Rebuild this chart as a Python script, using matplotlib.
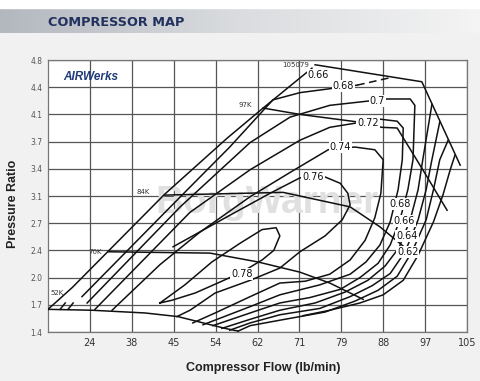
import numpy as np
import matplotlib.pyplot as plt
from matplotlib.colors import LinearSegmentedColormap

# axis labels (grid is evenly spaced, labels are not)
flow_ticks = [15, 24, 38, 45, 54, 62, 71, 79, 88, 97, 105]
pr_ticks = [1.4, 1.7, 2.0, 2.4, 2.7, 3.1, 3.4, 3.7, 4.1, 4.4, 4.8]
pr_tick_labels = ['1.4', '1.7', '2.0', '2.4', '2.7', '3.1', '3.4', '3.7', '4.1', '4.4', '4.8']

# speed lines
surge_flow = [15, 20.2, 43.5, 56.2, 63.2, 73.4]
surge_pr = [1.65, 1.89, 3.12, 3.75, 4.17, 4.68]
k52_flow = [15, 24.7, 40.2, 45.9, 55.8, 58.3]
k52_pr = [1.65, 1.64, 1.61, 1.57, 1.44, 1.41]
k70_flow = [30.2, 52.8, 62.1, 71.1, 76.8, 83.7]
k70_pr = [2.38, 2.36, 2.23, 2.08, 1.94, 1.76]
k84_flow = [43.5, 67.5, 80.9, 87.3, 92.7]
k84_pr = [3.11, 3.14, 2.94, 2.66, 2.43]
k97_flow = [63.2, 71.1, 82.4, 87.7, 91.0, 96.5, 101.2]
k97_pr = [4.17, 4.10, 3.99, 3.91, 3.90, 3.39, 2.89]
k105_flow = [74.0, 96.3, 103.7]
k105_pr = [4.73, 4.48, 3.44]

# efficiency islands
eff78_flow = [42.7, 47.4, 53.2, 58.7, 63.0, 66.0, 66.8, 65.5, 63.0, 59.0, 54.8, 49.6, 44.7, 42.7]
eff78_pr = [1.72, 1.92, 2.23, 2.48, 2.63, 2.65, 2.56, 2.40, 2.26, 2.08, 1.95, 1.83, 1.75, 1.72]
eff76_flow = [44.9, 56.8, 64.7, 71.1, 75.9, 78.8, 80.4, 80.9, 79.2, 75.9, 71.1, 66.8, 60.6, 53.9, 48.5, 45.7]
eff76_pr = [2.44, 2.82, 3.13, 3.30, 3.31, 3.24, 3.13, 2.97, 2.75, 2.56, 2.38, 2.14, 1.97, 1.83, 1.64, 1.57]
eff74_flow = [31.4, 42.7, 50.6, 60.6, 69.0, 76.5, 81.9, 86.2, 88.0, 87.5, 86.2, 84.1, 80.9, 76.8, 72.1, 66.8, 60.6, 53.9, 49.1]
eff74_pr = [1.64, 2.19, 2.60, 3.09, 3.36, 3.61, 3.64, 3.61, 3.50, 3.13, 2.78, 2.51, 2.26, 2.05, 1.96, 1.94, 1.79, 1.61, 1.50]
eff72_flow = [25.7, 48.5, 60.6, 71.1, 76.8, 87.3, 91.0, 92.3, 92.1, 91.2, 89.5, 87.3, 84.3, 80.9, 74.9, 66.8, 60.6, 51.3]
eff72_pr = [1.65, 2.86, 3.39, 3.72, 3.91, 4.03, 4.00, 3.90, 3.50, 3.17, 2.72, 2.46, 2.23, 2.05, 1.92, 1.81, 1.68, 1.48]
eff70_flow = [23.4, 46.4, 60.6, 69.0, 76.8, 88.8, 93.8, 94.8, 94.4, 93.3, 91.6, 89.5, 86.9, 83.0, 78.8, 73.0, 66.8, 60.6, 53.4]
eff70_pr = [1.72, 2.94, 3.69, 4.06, 4.20, 4.27, 4.27, 4.20, 3.50, 3.17, 2.75, 2.46, 2.21, 2.00, 1.87, 1.78, 1.72, 1.61, 1.47]
eff68_flow = [22.3, 45.3, 56.7, 65.3, 71.1, 82.4]
eff68_pr = [1.79, 3.01, 3.64, 4.26, 4.34, 4.43]
eff68_dash_flow = [82.4, 89.5]
eff68_dash_pr = [4.43, 4.54]
eff68_right_flow = [98.3, 96.5, 95.5, 93.8, 91.4, 88.4, 84.7, 79.8, 74.0, 66.8, 60.6, 55.2]
eff68_right_pr = [4.21, 3.50, 3.17, 2.75, 2.43, 2.17, 1.97, 1.84, 1.72, 1.64, 1.54, 1.44]
eff66_flow = [99.8, 98.3, 97.2, 95.5, 92.7, 89.5, 85.6, 80.9, 74.9, 66.8, 60.6, 56.7]
eff66_pr = [3.99, 3.50, 3.17, 2.75, 2.38, 2.06, 1.91, 1.79, 1.66, 1.59, 1.50, 1.42]
eff64_flow = [101.4, 99.8, 98.6, 97.2, 94.2, 91.0, 86.9, 81.9, 75.9, 66.8, 60.6, 58.3]
eff64_pr = [3.72, 3.50, 3.17, 2.75, 2.38, 2.02, 1.86, 1.74, 1.62, 1.53, 1.47, 1.41]
eff62_flow = [102.7, 101.8, 100.4, 98.6, 95.5, 92.3, 88.0, 83.0, 76.8, 71.7]
eff62_pr = [3.55, 3.39, 3.11, 2.72, 2.33, 1.97, 1.81, 1.72, 1.64, 1.58]
tick_flow = [[17.6, 18.7], [19.3, 20.4]]
tick_pr = [[1.65, 1.72], [1.65, 1.72]]

# labels
speed_names = ['52K', '70K', '84K', '97K', '105079']
speed_lab_flow = [16.9, 25.7, 39.9, 59.6, 70.3]
speed_lab_pr = [1.83, 2.38, 3.14, 4.20, 4.73]
eff_names = ['0.66', '0.68', '0.7', '0.72', '0.74', '0.76', '0.78', '0.68', '0.66', '0.64', '0.62']
eff_lab_flow = [74.6, 79.4, 86.7, 84.7, 78.8, 73.6, 59.0, 91.6, 92.5, 93.1, 93.3]
eff_lab_pr = [4.58, 4.42, 4.25, 3.97, 3.64, 3.31, 2.05, 2.98, 2.73, 2.56, 2.38]

idx = np.arange(len(flow_ticks))


def fwd_x(v):
    return np.interp(v, flow_ticks, idx)


def inv_x(v):
    return np.interp(v, idx, flow_ticks)


def fwd_y(v):
    return np.interp(v, pr_ticks, idx)


def inv_y(v):
    return np.interp(v, idx, pr_ticks)


fig = plt.figure(figsize=(4.8, 3.81), dpi=100)
fig.patch.set_facecolor('#f1f1f1')

# header band
hdr = fig.add_axes([0, 1 - 33 / 381, 1, 25 / 381])
grad = np.linspace(0, 1, 256).reshape(1, -1)
hdr.imshow(grad, aspect='auto', cmap=LinearSegmentedColormap.from_list('hdr', ['#b3b8bf', '#dadcdf', '#f4f4f4']))
hdr.axis('off')
fig.patches.append(plt.Rectangle((0, 1 - 8 / 381), 1, 8 / 381, transform=fig.transFigure, color='white'))
fig.text(48 / 480, 1 - 22 / 381, 'COMPRESSOR MAP', color='#22315e', fontsize=9.3,
         fontweight='bold', ha='left', va='center', family='DejaVu Sans')

ax = fig.add_axes([48 / 480, 1 - 332 / 381, 419 / 480, 272 / 381])
ax.set_facecolor('white')
ax.set_xscale('function', functions=(fwd_x, inv_x))
ax.set_yscale('function', functions=(fwd_y, inv_y))
ax.set_xlim(15, 105)
ax.set_ylim(1.4, 4.8)
ax.set_xticks(flow_ticks[1:])
ax.set_xticklabels([str(v) for v in flow_ticks[1:]], fontsize=7, color='#333333')
ax.set_yticks(pr_ticks)
ax.set_yticklabels(pr_tick_labels, fontsize=5.5, color='#555555')
ax.xaxis.set_minor_locator(plt.NullLocator())
ax.yaxis.set_minor_locator(plt.NullLocator())
ax.tick_params(length=0, pad=4)
ax.grid(True, color='#555555', lw=0.9, zorder=1)
ax.set_axisbelow(True)
for s in ax.spines.values():
    s.set_color('#777777')
    s.set_linewidth(0.9)

ax.text(41.9, 3.0, 'BorgWarner', fontsize=28, fontweight='bold', color='#e0e0e0',
        ha='left', va='center', zorder=1.5, family='Liberation Sans')
ax.text(18.2, 4.55, 'AIRWerks', fontsize=8.5, fontweight='bold', style='italic',
        color='#1f3a7a', ha='left', va='center', family='Liberation Sans')

lw = 1.1
kw = dict(color='#111111', lw=lw, zorder=3)
for fl, pr in [(surge_flow, surge_pr), (k52_flow, k52_pr), (k70_flow, k70_pr), (k84_flow, k84_pr),
               (k97_flow, k97_pr), (k105_flow, k105_pr), (eff78_flow, eff78_pr), (eff76_flow, eff76_pr),
               (eff74_flow, eff74_pr), (eff72_flow, eff72_pr), (eff70_flow, eff70_pr), (eff68_flow, eff68_pr),
               (eff68_right_flow, eff68_right_pr), (eff66_flow, eff66_pr), (eff64_flow, eff64_pr),
               (eff62_flow, eff62_pr)]:
    ax.plot(fl, pr, **kw)
ax.plot(eff68_dash_flow, eff68_dash_pr, color='#111111', lw=lw, ls=(0, (5, 3)), zorder=3)
for fl, pr in zip(tick_flow, tick_pr):
    ax.plot(fl, pr, **kw)

box = dict(facecolor='white', edgecolor='none', pad=0.6)
for name, fl, pr in zip(speed_names, speed_lab_flow, speed_lab_pr):
    ax.text(fl, pr, name, fontsize=5, color='#333333', ha='center', va='center', zorder=4)
for name, fl, pr in zip(eff_names, eff_lab_flow, eff_lab_pr):
    ax.text(fl, pr, name, fontsize=7, color='#111111', ha='center', va='center', bbox=box, zorder=4)

fig.text(263 / 480, 1 - 368 / 381, 'Compressor Flow (lb/min)', fontsize=9, fontweight='bold',
         ha='center', va='center', color='#222222', family='Liberation Sans')
fig.text(13 / 480, 1 - 204 / 381, 'Pressure Ratio', fontsize=9, fontweight='bold', rotation=90,
         ha='center', va='center', color='#222222', family='Liberation Sans')

fig.savefig('out.png', dpi=100, facecolor=fig.get_facecolor())
